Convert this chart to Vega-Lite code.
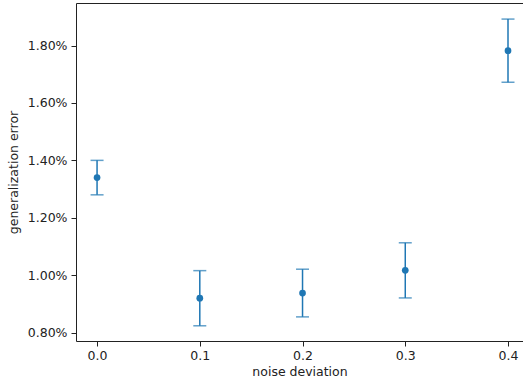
{
  "$schema": "https://vega.github.io/schema/vega-lite/v6.json",
  "width": 447,
  "height": 338,
  "autosize": {"type": "none"},
  "padding": {"left": 76, "top": 3, "right": 0, "bottom": 40},
  "background": "white",
  "config": {
    "view": {"stroke": null},
    "font": "DejaVu Sans",
    "axis": {
      "grid": false,
      "domainColor": "#222",
      "tickColor": "#222",
      "tickSize": 5,
      "labelFont": "DejaVu Sans",
      "labelFontSize": 12.5,
      "labelColor": "#222",
      "titleFont": "DejaVu Sans",
      "titleFontSize": 12.5,
      "titleFontWeight": "normal",
      "titleColor": "#222"
    }
  },
  "data": {
    "values": [
      {"noise": 0.0, "err": 0.0134, "lo": 0.0128, "hi": 0.0140},
      {"noise": 0.1, "err": 0.0092, "lo": 0.00824, "hi": 0.01016},
      {"noise": 0.2, "err": 0.00938, "lo": 0.00855, "hi": 0.01021},
      {"noise": 0.3, "err": 0.01017, "lo": 0.00921, "hi": 0.01113},
      {"noise": 0.4, "err": 0.01782, "lo": 0.01672, "hi": 0.01892}
    ]
  },
  "resolve": {"axis": {"x": "independent"}},
  "layer": [
    {
      "mark": {"type": "rule", "color": "#1f77b4", "strokeWidth": 1.5},
      "encoding": {
        "x": {
          "field": "noise",
          "type": "quantitative",
          "scale": {"domain": [-0.0205, 0.4146], "nice": false, "zero": false},
          "axis": {
            "title": "noise deviation",
            "values": [0, 0.1, 0.2, 0.3, 0.4],
            "format": ".1f",
            "labelPadding": 3,
            "titlePadding": 4,
            "labelFlush": false
          }
        },
        "y": {
          "field": "lo",
          "type": "quantitative",
          "scale": {"domain": [0.00771, 0.01948], "nice": false, "zero": false},
          "axis": {
            "title": "generalization error",
            "values": [0.008, 0.010, 0.012, 0.014, 0.016, 0.018],
            "format": ".2%",
            "labelPadding": 4,
            "titlePadding": 7,
            "labelFlush": false
          }
        },
        "y2": {"field": "hi"}
      }
    },
    {
      "mark": {"type": "tick", "orient": "horizontal", "color": "#1f77b4", "size": 13, "thickness": 1.5},
      "encoding": {
        "x": {"field": "noise", "type": "quantitative", "axis": {"orient": "top", "labels": false, "ticks": false, "title": null}},
        "y": {"field": "lo", "type": "quantitative"}
      }
    },
    {
      "mark": {"type": "tick", "orient": "horizontal", "color": "#1f77b4", "size": 13, "thickness": 1.5},
      "encoding": {
        "x": {"field": "noise", "type": "quantitative", "axis": null},
        "y": {"field": "hi", "type": "quantitative"}
      }
    },
    {
      "mark": {"type": "point", "filled": true, "color": "#1f77b4", "opacity": 1, "size": 45},
      "encoding": {
        "x": {"field": "noise", "type": "quantitative", "axis": null},
        "y": {"field": "err", "type": "quantitative"}
      }
    }
  ]
}
